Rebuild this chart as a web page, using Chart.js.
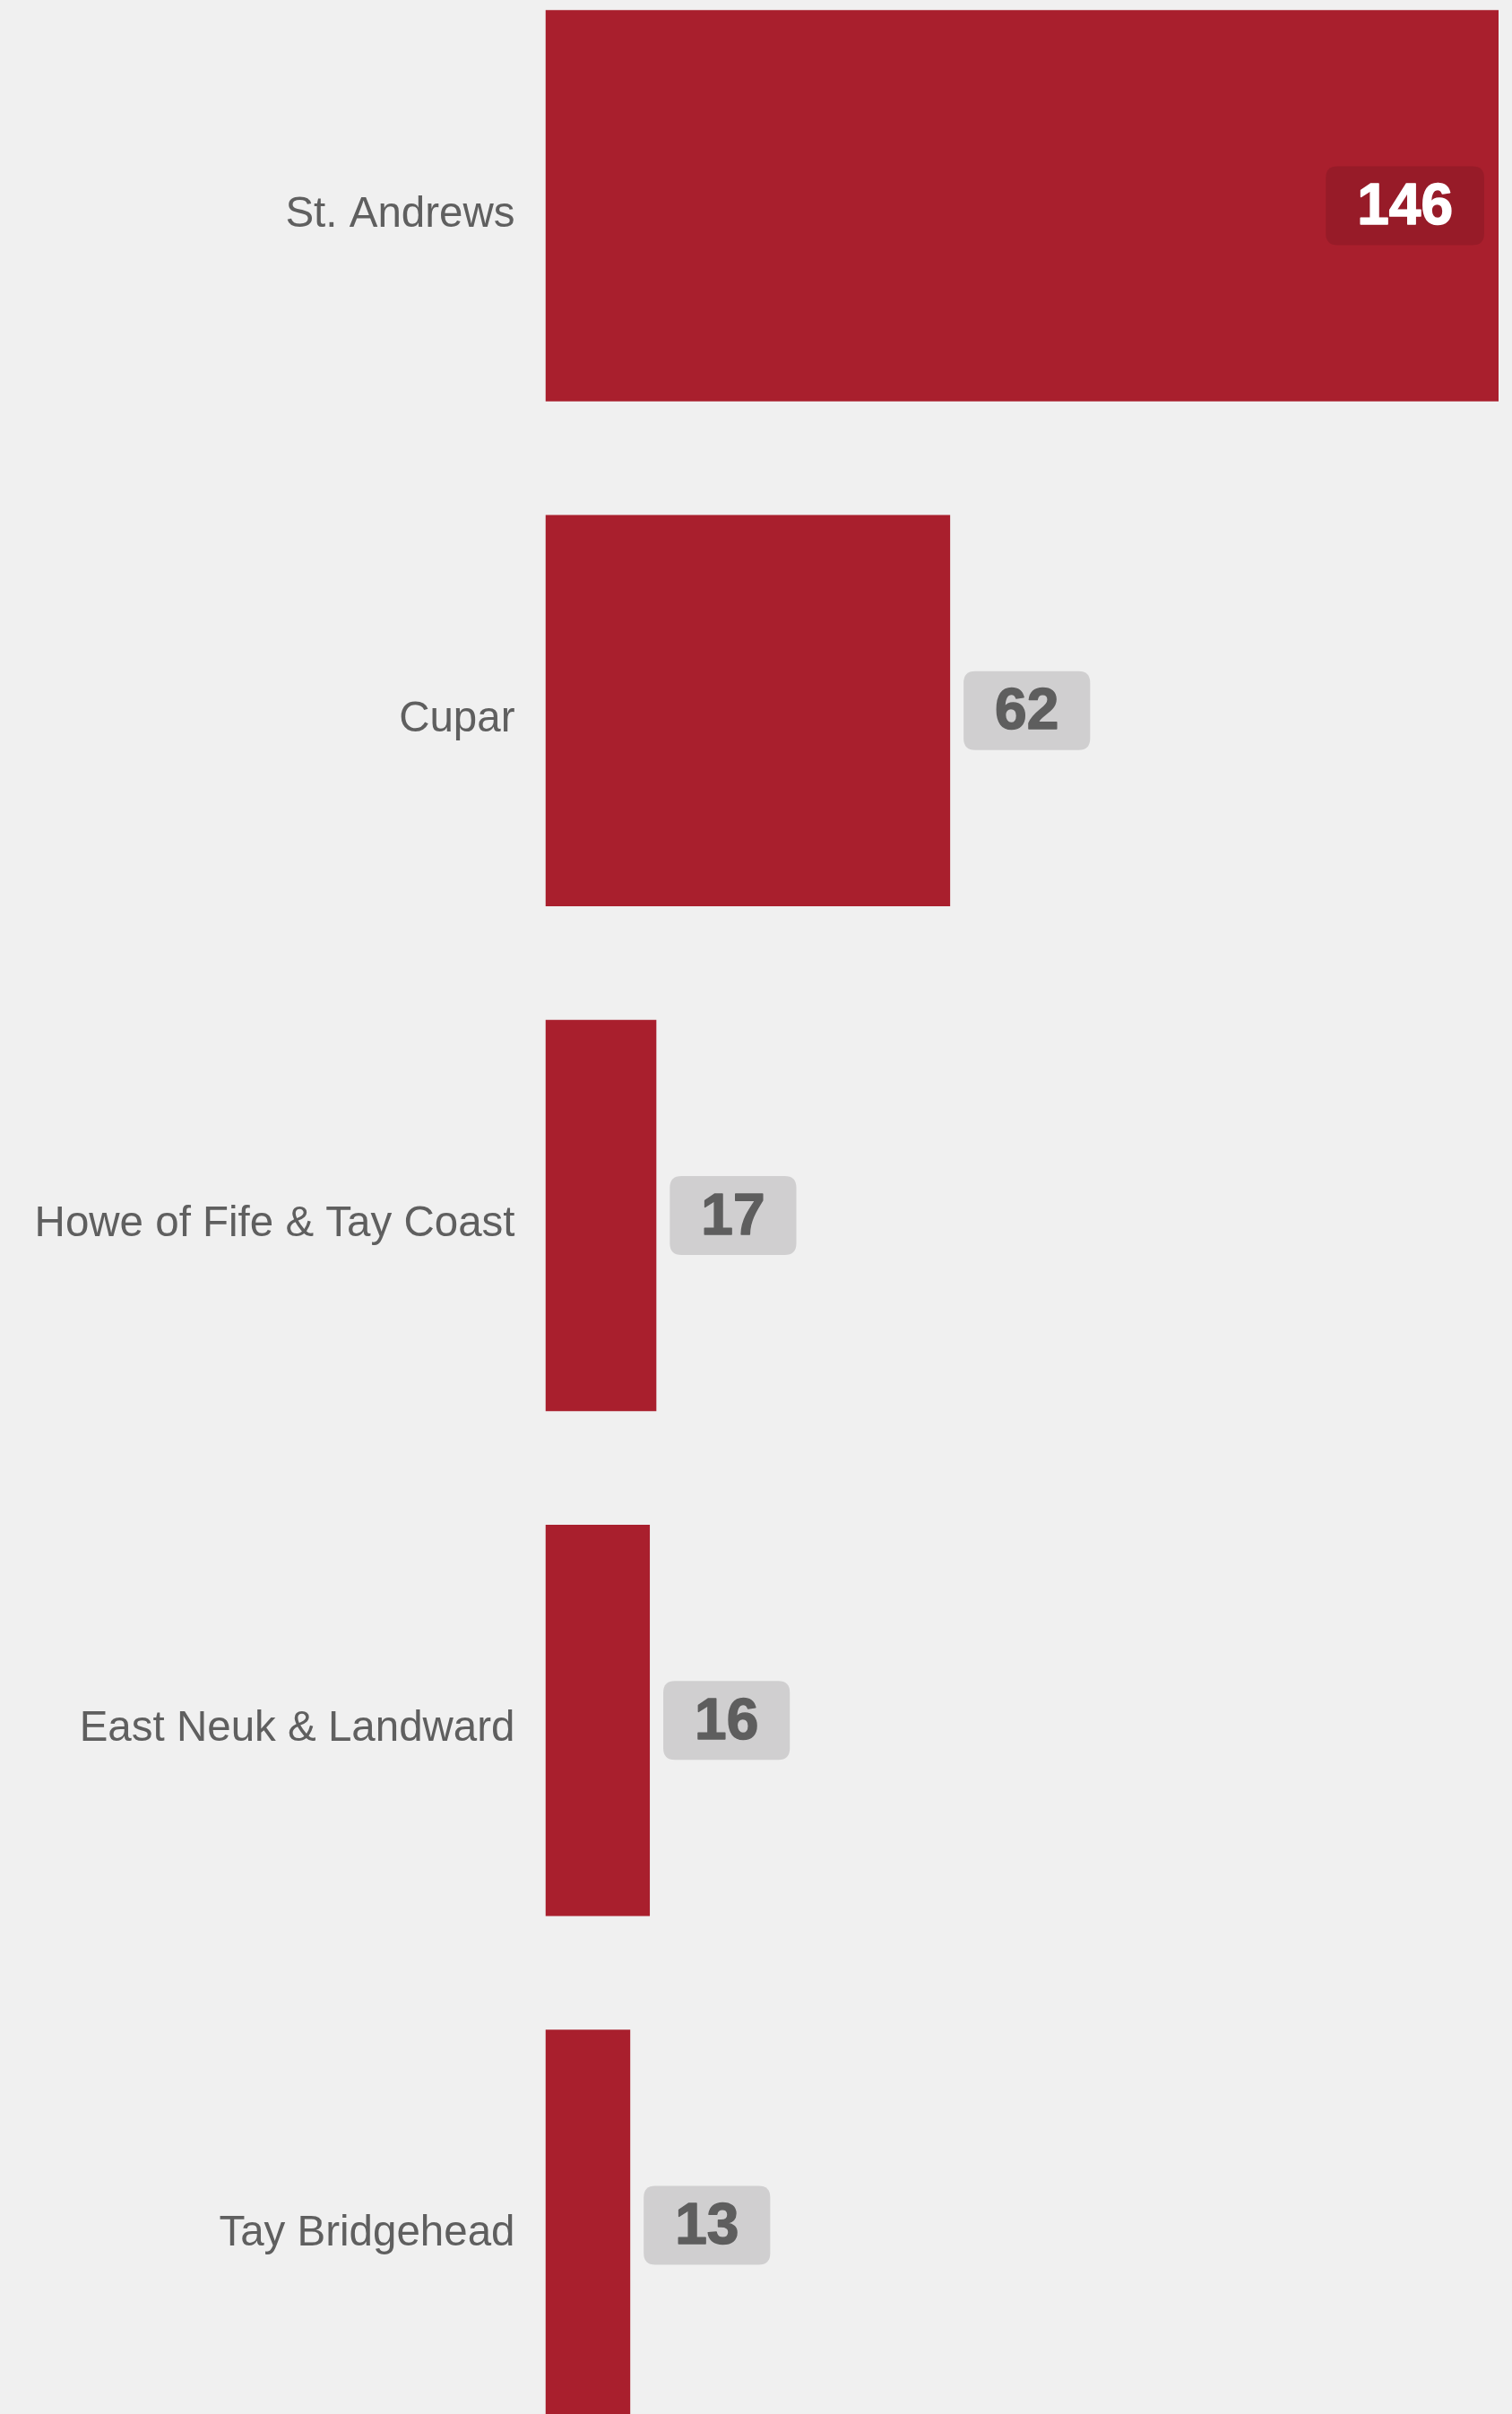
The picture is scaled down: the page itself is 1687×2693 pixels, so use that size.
<!DOCTYPE html>
<html>
<head>
<meta charset="utf-8">
<script src="https://cdn.jsdelivr.net/npm/chart.js@4/dist/chart.umd.min.js"></script>
<style>
  html, body { margin: 0; padding: 0; background: #f0f0f0; overflow: hidden; width: 1687px; height: 2693px; }
  #wrap { position: absolute; left: 0; top: -52px; width: 1687px; height: 2816px; }
</style>
</head>
<body>
<div id="wrap"><canvas id="c" width="1687" height="2816"></canvas></div>
<script>
const categories = ["St. Andrews", "Cupar", "Howe of Fife & Tay Coast", "East Neuk & Landward", "Tay Bridgehead"];
const values = [146, 62, 17, 16, 13];

const barColor = '#a91f2d';
const labelColor = '#5f5f5f';

function roundRect(ctx, x, y, w, h, r) {
  ctx.beginPath();
  ctx.moveTo(x + r, y);
  ctx.lineTo(x + w - r, y);
  ctx.quadraticCurveTo(x + w, y, x + w, y + r);
  ctx.lineTo(x + w, y + h - r);
  ctx.quadraticCurveTo(x + w, y + h, x + w - r, y + h);
  ctx.lineTo(x + r, y + h);
  ctx.quadraticCurveTo(x, y + h, x, y + h - r);
  ctx.lineTo(x, y + r);
  ctx.quadraticCurveTo(x, y, x + r, y);
  ctx.closePath();
}

const valueLabels = {
  id: 'valueLabels',
  afterDatasetsDraw(chart) {
    const ctx = chart.ctx;
    const meta = chart.getDatasetMeta(0);
    const area = chart.chartArea;
    ctx.save();
    ctx.font = 'bold 64px "Liberation Sans", Arial, sans-serif';
    ctx.textAlign = 'center';
    ctx.textBaseline = 'middle';
    meta.data.forEach((bar, i) => {
      const text = String(chart.data.datasets[0].data[i]);
      const tw = ctx.measureText(text).width;
      const bw = tw + 70, bh = 88;
      const inside = bar.x + 15 + bw > area.right;
      const x0 = inside ? bar.x - 16 - bw : bar.x + 15;
      const y0 = bar.y - bh / 2;
      ctx.fillStyle = inside ? 'rgba(0,0,0,0.1)' : '#d0cfd0';
      roundRect(ctx, x0, y0, bw, bh, 13);
      ctx.fill();
      const c = inside ? '#ffffff' : '#5e5e5e';
      ctx.fillStyle = c;
      ctx.strokeStyle = c;
      ctx.lineWidth = 1.5;
      ctx.lineJoin = 'round';
      ctx.fillText(text, x0 + bw / 2, bar.y + 3);
      ctx.strokeText(text, x0 + bw / 2, bar.y + 3);
    });
    ctx.restore();
  }
};

new Chart(document.getElementById('c'), {
  type: 'bar',
  data: {
    labels: categories,
    datasets: [{
      data: values,
      backgroundColor: barColor,
      borderWidth: 0,
      categoryPercentage: 1.0,
      barPercentage: 0.775
    }]
  },
  options: {
    indexAxis: 'y',
    responsive: false,
    animation: false,
    layout: { padding: { left: 0, right: 15, top: 0, bottom: 0 } },
    plugins: { legend: { display: false }, tooltip: { enabled: false } },
    scales: {
      x: { display: false, min: 0, max: 146 },
      y: {
        grid: { display: false, drawTicks: false },
        border: { display: false },
        afterFit(scale) {
          scale.width = 608.5;
          scale.paddingTop = 0;
          scale.paddingBottom = 0;
        },
        ticks: {
          color: labelColor,
          padding: 34,
          labelOffset: 10,
          font: { family: '"Liberation Sans", Arial, sans-serif', size: 47.5 }
        }
      }
    }
  },
  plugins: [valueLabels]
});
</script>
</body>
</html>
